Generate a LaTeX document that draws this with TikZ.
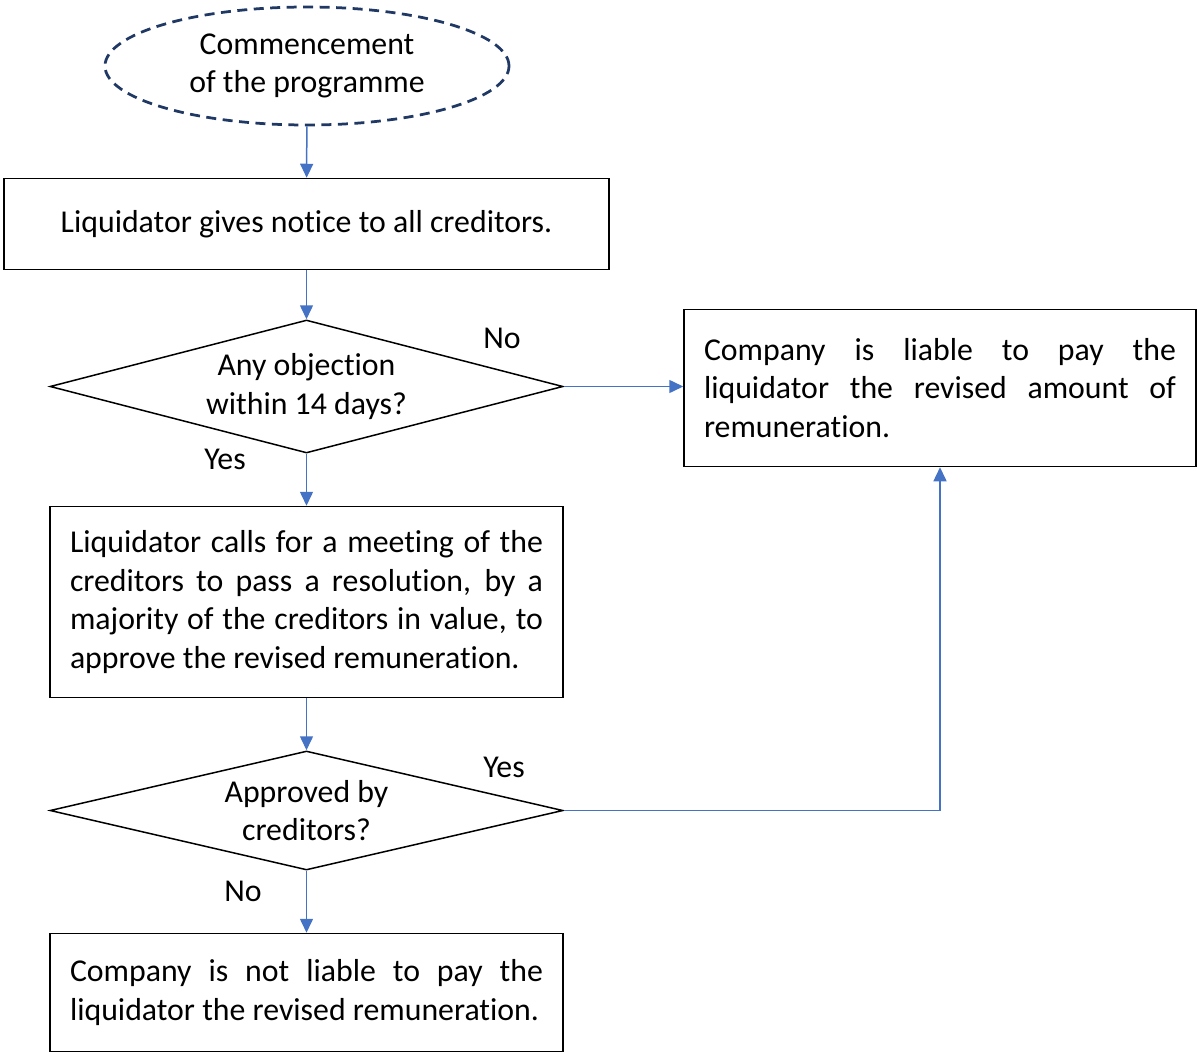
\documentclass[tikz,border=0pt]{standalone}
\usepackage{fontspec}
\setmainfont[Ligatures=NoCommon]{Carlito}
\usetikzlibrary{shapes.geometric,arrows.meta}
\definecolor{flowblue}{HTML}{4472C4}
\definecolor{startnavy}{HTML}{203864}
\tikzset{
  flowtext/.style={font=\fontsize{18.1}{22}\selectfont},
  flowbox/.style={flowtext, draw=black, line width=0.03cm, rectangle, inner xsep=0.4cm, inner ysep=0cm},
  flowcheck/.style={flowtext, draw=black, line width=0.03cm, diamond, inner sep=0cm, align=center},
  flowarrow/.style={draw=flowblue, line width=0.03cm, -{Triangle[length=0.28cm,width=0.26cm]}},
}
\begin{document}
\begin{tikzpicture}
% \clip (0,0) rectangle (23.94,-21.02);
\useasboundingbox (0,0) rectangle (23.94,-21.02);

% Drawing start ellipse
\node [flowtext, ellipse, draw=startnavy, line width=0.055cm, dash pattern=on 0.2cm off 0.13cm,
       minimum width=8.08cm, minimum height=2.36cm, align=center, inner sep=0cm]
      (start) at (6.14,-1.32) {Commencement\\of the programme};%

% Drawing box notice
\node [flowbox, minimum width=12.10cm, minimum height=1.82cm, align=center]
      (notice) at (6.13,-4.48) {Liquidator gives notice to all creditors.};%

% Drawing check objection
\node [flowcheck, aspect=3.86, minimum width=10.26cm, minimum height=2.66cm]
      (objection) at (6.13,-7.73) {Any objection\\within 14 days?};%

% Drawing box liable
\node [flowbox, minimum width=10.24cm, minimum height=3.14cm, text width=9.44cm, align=justify]
      (liable) at (18.80,-7.76) {Company is liable to pay the\linebreak liquidator the revised amount of\linebreak remuneration.};%

% Drawing check approved
\node [flowcheck, aspect=4.31, minimum width=10.26cm, minimum height=2.38cm]
      (approved) at (6.13,-16.21) {Approved by\\creditors?};%

% Drawing box meeting
\node [flowbox, minimum width=10.26cm, minimum height=3.82cm, text width=9.46cm, align=justify]
      (meeting) at (6.13,-12.04) {Liquidator calls for a meeting of the\linebreak creditors to pass a resolution, by a\linebreak majority of the creditors in value, to\linebreak approve the revised remuneration.};%

% Drawing box notliable
\node [flowbox, minimum width=10.26cm, minimum height=2.36cm, text width=9.46cm, align=justify]
      (notliable) at (6.13,-19.85) {Company is not liable to pay the\linebreak liquidator the revised remuneration.};%

% Marking answers
\node [flowtext] (objno) at (10.04,-6.76) {No};%
\node [flowtext] (objyes) at (4.50,-9.18) {Yes};%
\node [flowtext] (appyes) at (10.08,-15.34) {Yes};%
\node [flowtext] (appno) at (4.86,-17.82) {No};%

% Drawing arrows
\draw [flowarrow] (start) -- (notice);%
\draw [flowarrow] (notice) -- (objection);%
\draw [flowarrow] (objection.east) -- (liable.west |- objection.east);%
\draw [flowarrow] (objection.south) -- (meeting.north);%
\draw [flowarrow] (meeting) -- (approved);%
\draw [flowarrow] (approved.east) -| (liable.south);%
\draw [flowarrow] (approved.south) -- (notliable.north);%
\end{tikzpicture}
\end{document}
